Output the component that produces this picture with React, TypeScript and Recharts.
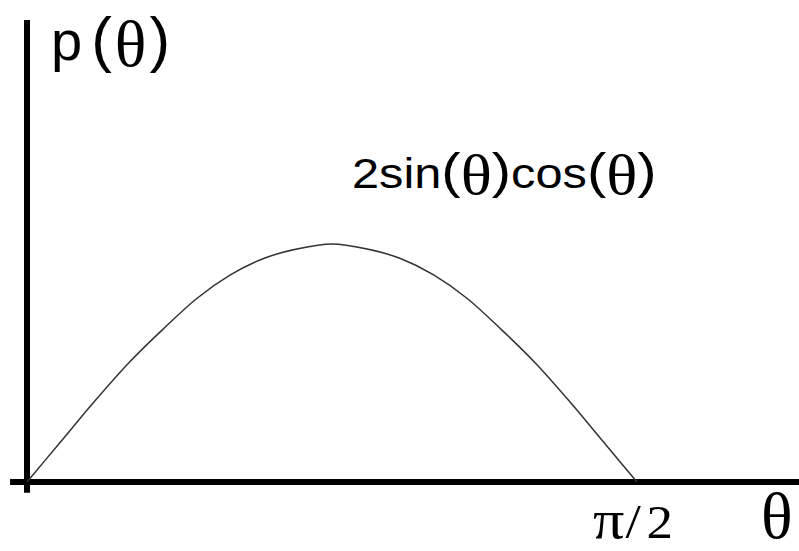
import React from 'react';
import { LineChart, Line, XAxis, YAxis, ReferenceLine } from 'recharts';

const thetaDeg = [0, 5, 10, 15, 20, 25, 30, 35, 40, 45, 50, 55, 60, 65, 70, 75, 80, 85, 90];
const pValues = [0, 0.17, 0.34, 0.5, 0.64, 0.77, 0.87, 0.94, 0.98, 1.0, 0.98, 0.94, 0.87, 0.77, 0.64, 0.5, 0.34, 0.17, 0];
const yLabel = ['p', '(', 'θ', ')'];
const curveLabel = ['2sin', '(', 'θ', ')', 'cos', '(', 'θ', ')'];
const xTickLabel = ['π', '/', '2'];
const xAxisLabel = 'θ';

const data = thetaDeg.map((t, i) => ({ t, p: pValues[i] }));

const SANS = 'Arial, "Liberation Sans", sans-serif';
const SERIF = '"Times New Roman", "Liberation Serif", serif';

export default function App() {
  return (
    <div style={{ position: 'absolute', left: 0, top: 0, width: 799, height: 551, background: '#fff' }}>
      <LineChart width={799} height={551} data={data} margin={{ top: 20, right: 0, bottom: 69, left: 27 }}>
        <XAxis dataKey="t" type="number" domain={[0, 113.9]} hide allowDataOverflow />
        <YAxis type="number" domain={[0, 1.941]} hide allowDataOverflow />
        <ReferenceLine
          segment={[{ x: -2.5, y: 0 }, { x: 113.9, y: 0 }]}
          stroke="#000"
          strokeWidth={6}
          ifOverflow="visible"
        />
        <ReferenceLine
          segment={[{ x: 0, y: -0.045 }, { x: 0, y: 1.941 }]}
          stroke="#000"
          strokeWidth={6}
          ifOverflow="visible"
        />
        <Line
          dataKey="p"
          type="monotone"
          stroke="#333"
          strokeWidth={1.5}
          dot={false}
          isAnimationActive={false}
        />
        <text x={51} y={60} fill="#000">
          <tspan fontFamily={SANS} fontSize={56}>{yLabel[0]}</tspan>
          <tspan fontFamily={SANS} fontSize={62} dx={9}>{yLabel[1]}</tspan>
          <tspan fontFamily={SERIF} fontSize={66} dx={3} dy={6}>{yLabel[2]}</tspan>
          <tspan fontFamily={SANS} fontSize={62} dx={3} dy={-6}>{yLabel[3]}</tspan>
        </text>
        <g transform="translate(352,188) scale(1.16,1)">
          <text x={0} y={0} fill="#000">
            <tspan fontFamily={SANS} fontSize={42}>{curveLabel[0]}</tspan>
            <tspan fontFamily={SANS} fontSize={50}>{curveLabel[1]}</tspan>
            <tspan fontFamily={SERIF} fontSize={56} dy={6}>{curveLabel[2]}</tspan>
            <tspan fontFamily={SANS} fontSize={50} dy={-6}>{curveLabel[3]}</tspan>
            <tspan fontFamily={SANS} fontSize={42}>{curveLabel[4]}</tspan>
            <tspan fontFamily={SANS} fontSize={50}>{curveLabel[5]}</tspan>
            <tspan fontFamily={SERIF} fontSize={56} dy={6}>{curveLabel[6]}</tspan>
            <tspan fontFamily={SANS} fontSize={50} dy={-6}>{curveLabel[7]}</tspan>
          </text>
        </g>
        <g transform="translate(593,538) scale(1.15,1)">
          <text x={0} y={0} fontFamily={SERIF} fill="#000">
            <tspan fontSize={54}>{xTickLabel[0]}</tspan>
            <tspan fontSize={48} dx={1}>{xTickLabel[1]}</tspan>
            <tspan fontSize={46} dx={5}>{xTickLabel[2]}</tspan>
          </text>
        </g>
        <text x={761} y={538} fontSize={66} fontFamily={SERIF} fill="#000">{xAxisLabel}</text>
      </LineChart>
    </div>
  );
}
